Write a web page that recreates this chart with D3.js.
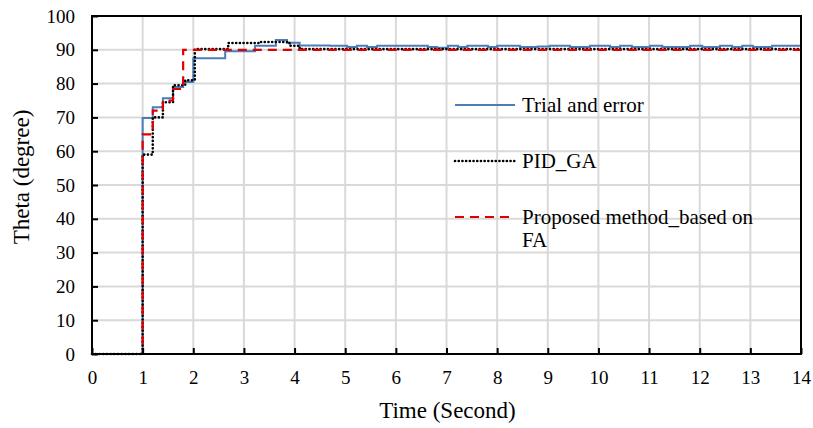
<!DOCTYPE html>
<html>
<head>
  <meta charset="utf-8">
  <title>Theta response</title>
  <script src="https://d3js.org/d3.v7.min.js"></script>
  <style>
    body { margin: 0; background: #fff; }
    text { font-family: "Liberation Serif", "Times New Roman", serif; fill: #000; }
  </style>
</head>
<body>
  <script>
    // step responses, [time, theta] pairs (step-after)
    var trialTime  = [0, 1.0, 1.2, 1.4, 1.6, 1.8, 2.0, 2.63, 3.22, 3.63, 3.85, 4.1, 4.7, 5.04, 5.23, 5.43, 5.63, 6.63, 6.81, 7.03, 7.23, 7.41, 7.82, 8.0, 8.45, 8.8, 9.04, 9.44, 9.83, 10.23, 10.43, 10.66, 11.02, 11.26, 11.81, 12.05, 12.4, 12.64, 12.84, 13.05, 13.43, 14];
    var trialTheta = [0, 69.8, 73, 75.7, 79, 80.5, 87.5, 89.6, 91.2, 92.9, 92.1, 91.3, 91.2, 90.8, 91.2, 90.8, 91.2, 90.8, 90.6, 91.2, 90.8, 91.2, 90.8, 91.2, 90.8, 91.0, 91.2, 90.8, 91.2, 90.8, 91.2, 90.8, 91.2, 90.8, 91.2, 90.8, 91.2, 90.8, 91.2, 90.8, 91.2, 91.2];

    var gaTime  = [0, 1.0, 1.2, 1.4, 1.6, 1.84, 2.03, 2.69, 3.3, 3.9, 4.1, 14];
    var gaTheta = [0, 59, 70, 74.5, 79.5, 81, 90.2, 92, 92.3, 91.2, 90.2, 90.2];

    var faTime  = [0, 1.0, 1.2, 1.4, 1.6, 1.8, 14];
    var faTheta = [0, 65, 72, 75, 78.4, 90, 90];

    var xTicks = d3.range(0, 15);
    var yTicks = d3.range(0, 101, 10);

    var seriesNames = ['Trial and error', 'PID_GA', 'Proposed method_based on FA'];

    var width = 813, height = 428;
    var margin = { top: 16, right: 12, bottom: 74, left: 92 };
    var plotW = width - margin.left - margin.right;
    var plotH = height - margin.top - margin.bottom;

    var svg = d3.select('body').append('svg')
      .attr('width', width)
      .attr('height', height);

    var g = svg.append('g')
      .attr('transform', 'translate(' + margin.left + ',' + margin.top + ')');

    var x = d3.scaleLinear().domain([0, 14]).range([0, plotW]);
    var y = d3.scaleLinear().domain([0, 100]).range([plotH, 0]);

    // grid
    g.selectAll('line.vgrid').data(xTicks).enter().append('line')
      .attr('x1', function(d) { return x(d); })
      .attr('x2', function(d) { return x(d); })
      .attr('y1', 0).attr('y2', plotH)
      .attr('stroke', '#d9d9d9').attr('stroke-width', 2);
    g.selectAll('line.hgrid').data(yTicks).enter().append('line')
      .attr('x1', 0).attr('x2', plotW)
      .attr('y1', function(d) { return y(d); })
      .attr('y2', function(d) { return y(d); })
      .attr('stroke', '#d9d9d9').attr('stroke-width', 2);

    function pairs(ts, vs) {
      return ts.map(function(t, i) { return [t, vs[i]]; });
    }

    var line = d3.line()
      .x(function(d) { return x(d[0]); })
      .y(function(d) { return y(d[1]); })
      .curve(d3.curveStepAfter);

    var styles = [
      { color: '#4a7ebb', width: 2, dash: null, cap: 'butt' },
      { color: '#000000', width: 2.6, dash: '0.1,3.6', cap: 'round' },
      { color: '#e00000', width: 2.2, dash: '9,6', cap: 'butt' }
    ];
    var series = [pairs(trialTime, trialTheta), pairs(gaTime, gaTheta), pairs(faTime, faTheta)];

    series.forEach(function(s, i) {
      g.append('path')
        .datum(s)
        .attr('d', line)
        .attr('fill', 'none')
        .attr('stroke', styles[i].color)
        .attr('stroke-width', styles[i].width)
        .attr('stroke-linecap', styles[i].cap)
        .attr('stroke-dasharray', styles[i].dash);
    });

    // axes with inward ticks
    var xAxis = g.append('g')
      .attr('transform', 'translate(0,' + plotH + ')')
      .call(d3.axisBottom(x).tickValues(xTicks).tickSizeInner(-6).tickSizeOuter(0).tickPadding(17));
    var yAxis = g.append('g')
      .call(d3.axisLeft(y).tickValues(yTicks).tickSizeInner(-6).tickSizeOuter(0).tickPadding(17));
    [xAxis, yAxis].forEach(function(a) {
      a.select('.domain').remove();
      a.selectAll('line').attr('stroke', '#000').attr('stroke-width', 2);
      a.selectAll('text').attr('font-size', 19).attr('fill', '#000')
        .style('font-family', '"Liberation Serif", serif');
    });

    // frame
    g.append('rect')
      .attr('x', 0).attr('y', 0)
      .attr('width', plotW).attr('height', plotH)
      .attr('fill', 'none').attr('stroke', '#000').attr('stroke-width', 2);

    // axis titles
    svg.append('text')
      .attr('x', margin.left + plotW / 2 + 1).attr('y', 418)
      .attr('text-anchor', 'middle')
      .attr('font-size', 23)
      .text('Time (Second)');
    svg.append('text')
      .attr('transform', 'translate(29,' + (margin.top + plotH / 2 - 8) + ') rotate(-90)')
      .attr('text-anchor', 'middle')
      .attr('font-size', 23)
      .text('Theta (degree)');

    // legend
    var legendY = [105, 161, 217];
    var legend = svg.append('g');
    seriesNames.forEach(function(name, i) {
      legend.append('line')
        .attr('x1', 455).attr('x2', 515)
        .attr('y1', legendY[i]).attr('y2', legendY[i])
        .attr('stroke', styles[i].color)
        .attr('stroke-width', styles[i].width)
        .attr('stroke-linecap', styles[i].cap)
        .attr('stroke-dasharray', styles[i].dash);
      var t = legend.append('text')
        .attr('x', 522).attr('y', legendY[i] + 7)
        .attr('font-size', 21);
      if (i === 2) {
        t.text('Proposed method_based on');
        legend.append('text')
          .attr('x', 522).attr('y', legendY[i] + 30)
          .attr('font-size', 21)
          .text('FA');
      } else {
        t.text(name);
      }
    });
  </script>
</body>
</html>
